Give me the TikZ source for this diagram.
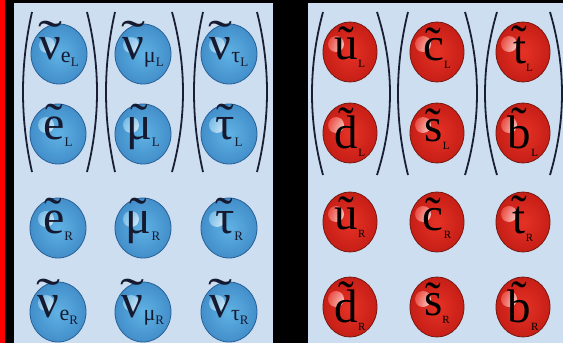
\documentclass[tikz,border=0pt]{standalone}
\usepackage{fontspec}
\setmainfont{Liberation Serif}
\usetikzlibrary{shapes.geometric}
\definecolor{panelc}{RGB}{204,222,240}
\definecolor{bluec}{RGB}{96,178,228}
\definecolor{blueedge}{RGB}{66,142,202}
\definecolor{blueline}{RGB}{40,96,150}
\definecolor{redc}{RGB}{230,50,38}
\definecolor{rededge}{RGB}{198,30,22}
\definecolor{redline}{RGB}{120,24,16}
\definecolor{inkc}{RGB}{22,26,48}
\definecolor{parenc}{RGB}{26,30,50}
\tikzset{
  bball/.style={ellipse, minimum width=56pt, minimum height=60pt, inner sep=0pt,
    shading=radial, inner color=bluec, outer color=blueedge, draw=blueline, line width=0.8pt,
    path picture={\shade[inner color=white, outer color=bluec, opacity=0.9]
      ([shift={(-12pt,9pt)}]path picture bounding box.center) circle (8pt);}},
  rball/.style={ellipse, minimum width=54pt, minimum height=60pt, inner sep=0pt,
    shading=radial, inner color=redc, outer color=rededge, draw=redline, line width=0.8pt,
    path picture={\shade[inner color=white, outer color=redc]
      ([shift={(-14pt,8pt)}]path picture bounding box.center) circle (8pt);}},
  btxt/.style={inner sep=0pt, text=inkc},
  rtxt/.style={inner sep=0pt, text=black},
  paren/.style={draw=parenc, line width=1.8pt}
}
\newcommand\tld[3]{\leavevmode\ooalign{#3\cr\hidewidth\raisebox{#1}{\scalebox{#2}[1]{\char"02DC}}\hidewidth\cr}}
\newcommand\bmain[3]{{\fontsize{48}{48}\selectfont\tld{#1}{#2}{#3}}}
\newcommand\bsub[1]{\raisebox{-3pt}{\fontsize{22}{22}\selectfont #1}}
\newcommand\bsubsub[1]{\raisebox{-7pt}{\fontsize{13}{13}\selectfont #1}}
\newcommand\rmain[2]{{\fontsize{47}{47}\selectfont\tld{#1}{1}{#2}}}
\newcommand\rsub[1]{\raisebox{-8pt}{\fontsize{11}{11}\selectfont #1}}
\newcommand\parenarc[4]{\draw[paren] (#1,#3) .. controls ({(4*#2-#1)/3},{#3+(#4-#3)/3}) and ({(4*#2-#1)/3},{#3+2*(#4-#3)/3}) .. (#1,#4);}
\begin{document}
\begin{tikzpicture}[x=1pt,y=-1pt]
\useasboundingbox (0,0) rectangle (563,343);
\fill[black] (0,0) rectangle (563,343);
\fill[red] (0,0) rectangle (4.5,343);
\fill[panelc] (14,3) rectangle (273,343);
\fill[panelc] (308,3) rectangle (563,343);
% parentheses, leptons
\parenarc{32}{23}{12}{172}
\parenarc{87}{97}{12}{172}
\parenarc{115}{106}{12}{172}
\parenarc{172}{183}{12}{172}
\parenarc{203}{194}{12}{172}
\parenarc{257}{267}{12}{172}
% parentheses, quarks
\parenarc{323}{312}{12}{175}
\parenarc{377}{390}{12}{175}
\parenarc{408}{398}{12}{175}
\parenarc{465}{477}{12}{175}
\parenarc{497}{485}{12}{175}
\parenarc{550}{562}{12}{175}
% lepton balls
\node[bball] (ve) at (59,54) {};
\node[bball] (vm) at (143,54) {};
\node[bball] (vt) at (229,54) {};
\node[bball] (eL) at (58,134) {};
\node[bball] (mL) at (143,134) {};
\node[bball] (tL) at (229,134) {};
\node[bball] (eR) at (58,228) {};
\node[bball] (mR) at (143,228) {};
\node[bball] (tR) at (229,228) {};
\node[bball] (vRe) at (58,312) {};
\node[bball] (vRm) at (143,312) {};
\node[bball] (vRt) at (229,312) {};
\node[btxt] (vet) at ([yshift=2pt]ve) {\bmain{6pt}{1.5}{ν}\bsub{e}\bsubsub{L}};
\node[btxt] (vmt) at ([yshift=2pt]vm) {\bmain{6pt}{1.5}{ν}\bsub{μ}\bsubsub{L}};
\node[btxt] (vtt) at ([yshift=2pt]vt) {\bmain{6pt}{1.5}{ν}\bsub{τ}\bsubsub{L}};
\node[btxt] (eLt) at ([yshift=2pt]eL) {\bmain{3pt}{1.1}{e}\bsubsub{L}};
\node[btxt] (mLt) at ([yshift=2pt]mL) {\bmain{3pt}{1.1}{μ}\bsubsub{L}};
\node[btxt] (tLt) at ([yshift=2pt]tL) {\bmain{3pt}{1.1}{τ}\bsubsub{L}};
\node[btxt] (eRt) at ([yshift=2pt]eR) {\bmain{3pt}{1.1}{e}\bsubsub{R}};
\node[btxt] (mRt) at ([yshift=2pt]mR) {\bmain{3pt}{1.1}{μ}\bsubsub{R}};
\node[btxt] (tRt) at ([yshift=2pt]tR) {\bmain{3pt}{1.1}{τ}\bsubsub{R}};
\node[btxt] (vRet) at ([yshift=2pt]vRe) {\bmain{6pt}{1.5}{ν}\bsub{e}\bsubsub{R}};
\node[btxt] (vRmt) at ([yshift=2pt]vRm) {\bmain{6pt}{1.5}{ν}\bsub{μ}\bsubsub{R}};
\node[btxt] (vRtt) at ([yshift=2pt]vRt) {\bmain{6pt}{1.5}{ν}\bsub{τ}\bsubsub{R}};
% squark balls
\node[rball] (uL) at (350,52) {};
\node[rball] (cL) at (437,52) {};
\node[rball] (tqL) at (523,52) {};
\node[rball] (dL) at (350,133) {};
\node[rball] (sL) at (437,133) {};
\node[rball] (bL) at (523,133) {};
\node[rball] (uR) at (350,222) {};
\node[rball] (cR) at (437,222) {};
\node[rball] (tqR) at (523,222) {};
\node[rball] (dR) at (350,307) {};
\node[rball] (sR) at (437,307) {};
\node[rball] (bR) at (523,307) {};
\node[rtxt] (uLt) at ([yshift=-1pt]uL) {\rmain{1pt}{u}\rsub{L}};
\node[rtxt] (cLt) at ([yshift=-1pt]cL) {\rmain{1pt}{c}\rsub{L}};
\node[rtxt] (tqLt) at ([yshift=-2pt]tqL) {\rmain{6pt}{t}\rsub{L}};
\node[rtxt] (dLt) at ([yshift=-3pt]dL) {\rmain{9pt}{d}\rsub{L}};
\node[rtxt] (sLt) at ([yshift=-1pt]sL) {\rmain{1pt}{s}\rsub{L}};
\node[rtxt] (bLt) at ([yshift=-3pt]bL) {\rmain{9pt}{b}\rsub{L}};
\node[rtxt] (uRt) at ([yshift=-1pt]uR) {\rmain{1pt}{u}\rsub{R}};
\node[rtxt] (cRt) at ([yshift=-1pt]cR) {\rmain{1pt}{c}\rsub{R}};
\node[rtxt] (tqRt) at ([yshift=-2pt]tqR) {\rmain{6pt}{t}\rsub{R}};
\node[rtxt] (dRt) at ([yshift=-3pt]dR) {\rmain{9pt}{d}\rsub{R}};
\node[rtxt] (sRt) at ([yshift=-1pt]sR) {\rmain{1pt}{s}\rsub{R}};
\node[rtxt] (bRt) at ([yshift=-3pt]bR) {\rmain{9pt}{b}\rsub{R}};
\end{tikzpicture}
\end{document}
